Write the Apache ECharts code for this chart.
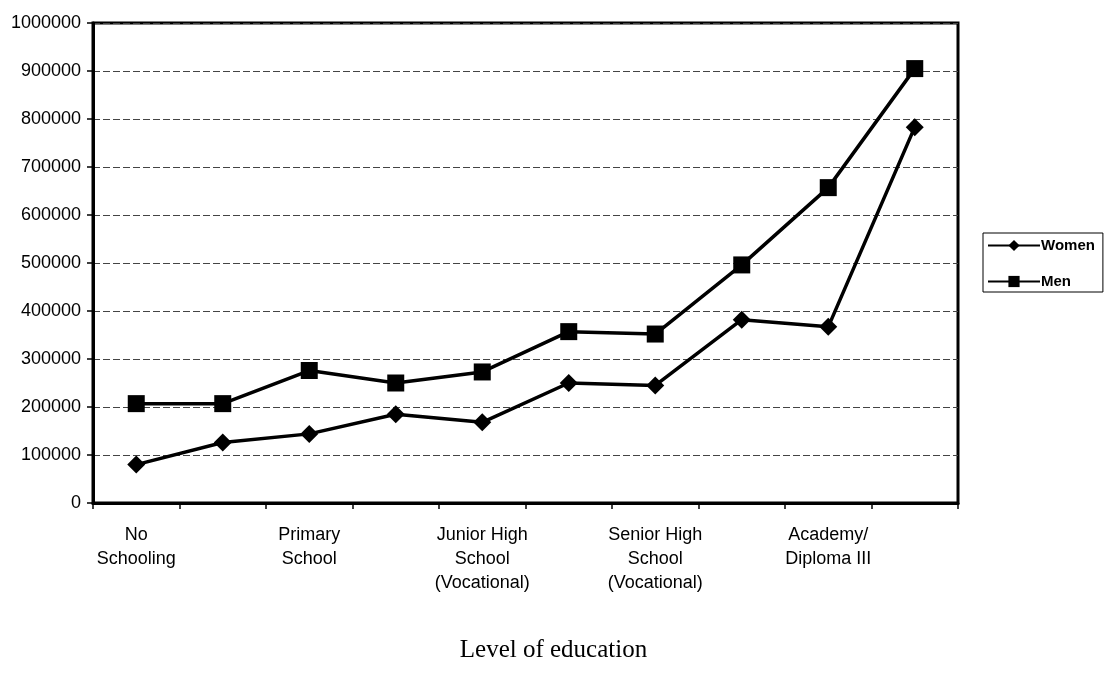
<!DOCTYPE html>
<html>
<head>
<meta charset="utf-8">
<script src="https://cdn.jsdelivr.net/npm/echarts@6/dist/echarts.min.js"></script>
<style>
  html, body { margin: 0; padding: 0; background: #fff; }
  #chart { width: 1107px; height: 682px; }
</style>
</head>
<body>
<div id="chart"></div>
<script>
// Education levels (every other one carries a printed label)
const categories = [
  'No\nSchooling',
  'Primary School\n(Not Completed)',
  'Primary\nSchool',
  'Junior High\nSchool',
  'Junior High\nSchool\n(Vocational)',
  'Senior High\nSchool',
  'Senior High\nSchool\n(Vocational)',
  'Diploma I/II',
  'Academy/\nDiploma III',
  'University'
];
const women = [80000, 126000, 144000, 185000, 168000, 250000, 245000, 382000, 367000, 783000];
const men   = [207000, 207000, 276000, 250000, 273000, 357000, 352000, 496000, 657000, 905000];
const yTicks = [0, 100000, 200000, 300000, 400000, 500000, 600000, 700000, 800000, 900000, 1000000];

const chart = echarts.init(document.getElementById('chart'), null, { renderer: 'canvas' });

const sansFont = '"Liberation Sans", Arial, sans-serif';

chart.setOption({
  backgroundColor: '#ffffff',
  animation: false,
  grid: {
    left: 93, right: 149, top: 23, bottom: 179,
    show: true,
    borderColor: '#000',
    borderWidth: 3,
    backgroundColor: 'transparent'
  },
  legend: {
    orient: 'vertical',
    left: 983, top: 233,
    data: ['Women', 'Men'],
    itemWidth: 52, itemHeight: 14,
    itemGap: 21,
    padding: [5, 8, 3, 4],
    borderColor: '#000', borderWidth: 1,
    textStyle: { fontFamily: sansFont, fontSize: 15, fontWeight: 'bold', color: '#000', padding: [0, 0, 0, -4] }
  },
  graphic: [{
    type: 'text',
    left: 'center', top: 638,
    x: 12,
    style: {
      text: 'Level of education',
      font: '25px "Liberation Serif", "Times New Roman", serif',
      fill: '#000'
    }
  }],
  xAxis: {
    type: 'category',
    data: categories,
    boundaryGap: true,
    axisLine: { show: true, lineStyle: { color: '#000', width: 3 } },
    axisTick: { show: true, interval: 0, length: 6, lineStyle: { color: '#000', width: 1.5 } },
    axisLabel: {
      interval: 1,
      margin: 20,
      color: '#000',
      fontFamily: sansFont,
      fontSize: 18,
      lineHeight: 24,
      align: 'center'
    },
    splitLine: { show: false }
  },
  yAxis: {
    type: 'value',
    min: yTicks[0],
    max: yTicks[yTicks.length - 1],
    interval: yTicks[1] - yTicks[0],
    axisLine: { show: true, lineStyle: { color: '#000', width: 3 } },
    axisTick: { show: true, length: 6, lineStyle: { color: '#000', width: 1.5 } },
    axisLabel: {
      margin: 12,
      color: '#000',
      fontFamily: sansFont,
      fontSize: 18,
      formatter: v => String(v)
    },
    splitLine: { show: true, lineStyle: { color: '#444', width: 1, type: [7, 3] } }
  },
  series: [
    {
      name: 'Women',
      type: 'line',
      data: women,
      symbol: 'diamond',
      symbolSize: 18,
      lineStyle: { color: '#000', width: 3.5 },
      itemStyle: { color: '#000' },
      z: 3
    },
    {
      name: 'Men',
      type: 'line',
      data: men,
      symbol: 'rect',
      symbolSize: 17,
      lineStyle: { color: '#000', width: 3.5 },
      itemStyle: { color: '#000' },
      z: 3
    }
  ]
});
</script>
</body>
</html>
